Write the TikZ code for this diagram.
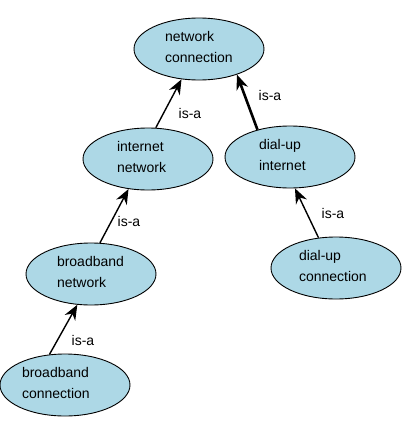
\documentclass[tikz,border=0pt]{standalone}
\usepackage{fontspec}
\setmainfont{Liberation Sans}
\usetikzlibrary{arrows.meta,positioning}
\usetikzlibrary{shapes.geometric}
\definecolor{conceptBlue}{RGB}{173, 216, 230}

\begin{document}
\begin{tikzpicture}[
    x=1pt, y=-1pt,
    font=\fontsize{14}{21}\selectfont,
    % 概念節點樣式 (橢圓)
    concept/.style={
        ellipse,
        draw=black,
        line width=0.9pt,
        fill=conceptBlue,
        inner sep=0pt,
        minimum width=130pt,
        minimum height=62pt,
        text width=68pt,
        text depth=25pt,
        align=left
    },
    % 關係標籤
    rel/.style={
        inner sep=0pt,
        text=black
    },
    % is-a 箭頭
    isa/.style={
        -{Stealth[length=15pt, width=12pt]},
        draw=black,
        line width=1.4pt
    },
    isathick/.style={
        isa,
        line width=2.6pt
    }
]

    % 外框 (固定圖的大小)
    \useasboundingbox (0,0) rectangle (404,445);

    % --- 1. 概念節點 ---
    \node[concept] (netconn) at (199,49) {network\\connection};
    \node[concept, text width=62pt] (inet) at (148,159) {internet\\network};
    \node[concept, text width=62pt] (dialinet) at (290,157) {dial-up\\internet};
    \node[concept] (bbnet) at (91,274) {broadband\\network};
    \node[concept, text width=74pt] (dialconn) at (336,268) {dial-up\\connection};
    \node[concept, text width=86pt] (bbconn) at (65,385) {broadband\\connection};

    % --- 2. is-a 關係 ---
    \draw[isa] (inet.76) -- (netconn.240);
    \draw[isathick] (dialinet.140) -- (netconn.326);
    \draw[isa] (dialconn.120) -- (dialinet.279);
    \draw[isa] (bbnet.74) -- (inet.237);
    \draw[isa] (bbconn.117) -- (bbnet.246);

    % 標籤
    \node[rel] (lbl1) at (190,113) {is-a};
    \node[rel] (lbl2) at (270,95) {is-a};
    \node[rel] (lbl3) at (333,213) {is-a};
    \node[rel] (lbl4) at (129,221) {is-a};
    \node[rel] (lbl5) at (83,340) {is-a};

\end{tikzpicture}
\end{document}
